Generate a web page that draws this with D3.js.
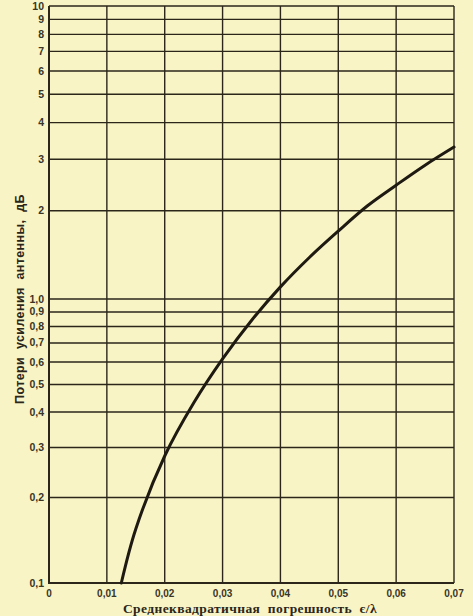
<!DOCTYPE html>
<html><head><meta charset="utf-8">
<script src="https://cdn.jsdelivr.net/npm/d3@7"></script>
<style>
html,body{margin:0;padding:0;background:#f8f4c6;}
svg{display:block;}
</style></head>
<body>
<script>
// Data
const xTicks = [0, 0.01, 0.02, 0.03, 0.04, 0.05, 0.06, 0.07];
const xTickLabels = ["0", "0,01", "0,02", "0,03", "0,04", "0,05", "0,06", "0,07"];
const yTicks = [0.1,0.2,0.3,0.4,0.5,0.6,0.7,0.8,0.9,1,2,3,4,5,6,7,8,9,10];
const yTickLabels = ["0,1","0,2","0,3","0,4","0,5","0,6","0,7","0,8","0,9","1,0","2","3","4","5","6","7","8","9","10"];
const errX =  [0.0125, 0.015, 0.020, 0.025, 0.030, 0.035, 0.040, 0.045, 0.050, 0.055, 0.060, 0.065, 0.070];
const lossY = [0.10,   0.155, 0.28,  0.43,  0.615, 0.84,  1.10,  1.386, 1.706, 2.077, 2.446, 2.862, 3.30];
const xTitle = "Среднеквадратичная  погрешность  є/λ";
const yTitle = "Потери  усиления  антенны,  дБ";

const W = 473, H = 616;
const ink = "#2b2619";
const svg = d3.select("body").append("svg").attr("width", W).attr("height", H);
svg.append("rect").attr("width", W).attr("height", H).attr("fill", "#f8f4c6");

const x = d3.scaleLinear().domain([0, 0.07]).range([49, 454]);
const y = d3.scaleLog().domain([0.1, 1, 10]).range([583, 299, 6]);

const g = svg.append("g");
g.selectAll("line.h").data(yTicks).join("line")
  .attr("x1", x(0)).attr("x2", x(0.07))
  .attr("y1", d => y(d)).attr("y2", d => y(d))
  .attr("stroke", ink).attr("stroke-width", 1.4);
g.selectAll("line.v").data(xTicks).join("line")
  .attr("x1", d => x(d)).attr("x2", d => x(d))
  .attr("y1", y(0.1)).attr("y2", y(10))
  .attr("stroke", ink).attr("stroke-width", d => d === 0 ? 2 : 1.4);
g.append("line").attr("x1", x(0)-1).attr("x2", x(0.07)).attr("y1", y(0.1)).attr("y2", y(0.1))
  .attr("stroke", ink).attr("stroke-width", 2);

svg.selectAll("text.yt").data(yTicks).join("text")
  .attr("x", 44).attr("y", d => y(d) + 3.5)
  .attr("text-anchor", "end")
  .attr("font-family", "Liberation Sans, Arial, sans-serif")
  .attr("font-size", 10.5).attr("font-weight", "bold").attr("fill", "#3a3526")
  .text((d, i) => yTickLabels[i]);
svg.selectAll("text.xt").data(xTicks).join("text")
  .attr("x", d => x(d)).attr("y", 597)
  .attr("text-anchor", "middle")
  .attr("font-family", "Liberation Sans, Arial, sans-serif")
  .attr("font-size", 10).attr("font-weight", "bold").attr("fill", "#3a3526")
  .text((d, i) => xTickLabels[i]);

const pts = errX.map((v, i) => [v, lossY[i]]);
svg.append("path").datum(pts)
  .attr("d", d3.line().x(d => x(d[0])).y(d => y(d[1])).curve(d3.curveCatmullRom.alpha(0.5)))
  .attr("fill", "none").attr("stroke", "#1e1a12").attr("stroke-width", 3)
  .attr("stroke-linecap", "round");

svg.append("text").attr("x", 250).attr("y", 613).attr("text-anchor", "middle")
  .attr("font-family", "Liberation Serif, DejaVu Serif, serif")
  .attr("font-size", 13.5).attr("font-weight", "bold").attr("fill", "#2b2619")
  .attr("letter-spacing", 0.4)
  .style("white-space", "pre")
  .text(xTitle);
svg.append("text").attr("transform", "translate(24,299) rotate(-90)")
  .attr("text-anchor", "middle")
  .attr("font-family", "Liberation Sans, Arial, sans-serif")
  .attr("font-size", 12.5).attr("font-weight", "bold").attr("fill", "#2b2619")
  .attr("letter-spacing", 0.4)
  .style("white-space", "pre")
  .text(yTitle);
</script>
</body></html>
